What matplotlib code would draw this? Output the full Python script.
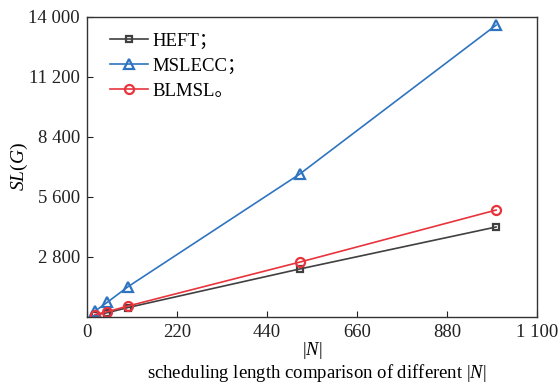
import matplotlib.pyplot as plt
from matplotlib.ticker import FuncFormatter

plt.rcParams['font.family'] = ['Liberation Serif', 'Noto Sans CJK SC', 'DejaVu Sans']
plt.rcParams['mathtext.fontset'] = 'custom'
plt.rcParams['mathtext.rm'] = 'Liberation Serif'
plt.rcParams['mathtext.it'] = 'Liberation Serif:italic'

nodes = [20, 50, 100, 520, 1000]
heft = [100, 200, 440, 2240, 4200]
mslecc = [280, 690, 1410, 6670, 13620]
blmsl = [110, 250, 510, 2560, 4990]

xticks = [0, 220, 440, 660, 880, 1100]
yticks = [2800, 5600, 8400, 11200, 14000]


def spaced(v, pos):
    return '{:,}'.format(int(v)).replace(',', ' ')


fig = plt.figure(figsize=(5.59, 3.82), dpi=100)
ax = fig.add_axes([0.1556, 0.1702, 0.805, 0.7853])

ax.plot(nodes, heft, color='#404040', marker='s', markersize=5, markerfacecolor='none',
        markeredgewidth=1.6, linewidth=1.2, label='HEFT；')
ax.plot(nodes, mslecc, color='#2f74c0', marker='^', markersize=7.5, markerfacecolor='none',
        markeredgewidth=1.6, linewidth=1.2, label='MSLECC；')
ax.plot(nodes, blmsl, color='#e8343c', marker='o', markersize=6.5, markerfacecolor='none',
        markeredgewidth=1.6, linewidth=1.2, label='BLMSL。')

ax.set_xlim(0, 1100)
ax.set_ylim(0, 14000)
ax.set_xticks(xticks)
ax.set_yticks(yticks)
ax.xaxis.set_major_formatter(FuncFormatter(spaced))
ax.yaxis.set_major_formatter(FuncFormatter(spaced))
ax.tick_params(direction='in', length=4, labelsize=13.5, colors='#222222', pad=5)
for s in ax.spines.values():
    s.set_color('#333333')
    s.set_linewidth(1.0)

ax.set_ylabel(r'$SL(G)$', fontsize=14, labelpad=-1)
ax.set_xlabel(r'$|N|$', fontsize=13.5, labelpad=-1)
fig.text(0.566, -0.004, r'scheduling length comparison of different $|N|$',
         ha='center', va='bottom', fontsize=13.5)

leg = ax.legend(loc='upper left', frameon=False, fontsize=13.5, handlelength=2.0,
                handletextpad=0.27, borderaxespad=0.45, labelspacing=0.42,
                bbox_to_anchor=(0.016, 1.0))

fig.savefig('out.png', dpi=100)
